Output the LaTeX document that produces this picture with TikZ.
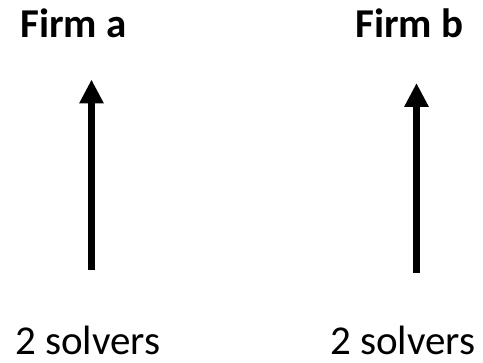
\documentclass[tikz,border=0pt]{standalone}
\usepackage{fontspec}
\setmainfont{Carlito}
\usetikzlibrary{arrows.meta}
\begin{document}
\begin{tikzpicture}[x=1pt,y=1pt,
  firm/.style={inner sep=0pt,anchor=base west,font=\fontsize{41}{49}\selectfont\bfseries},
  solv/.style={inner sep=0pt,anchor=base west,font=\fontsize{41}{49}\selectfont},
  uparrow/.style={line width=7.5pt,-{Triangle[length=24pt,width=23pt]}}]
\useasboundingbox (0,0) rectangle (483,363);
\node[firm] (fa) at (20,325) {Firm a};
\node[firm] (fb) at (355,325) {Firm b};
\node[solv] (sa) at (15,8) {2 solvers};
\node[solv] (sb) at (330,8) {2 solvers};
\coordinate (a0) at (91.5,93);
\coordinate (a1) at (91.5,283.5);
\coordinate (b0) at (416.5,90);
\coordinate (b1) at (416.5,280);
\draw[uparrow] (a0) -- (a1);
\draw[uparrow] (b0) -- (b1);
\end{tikzpicture}
\end{document}
